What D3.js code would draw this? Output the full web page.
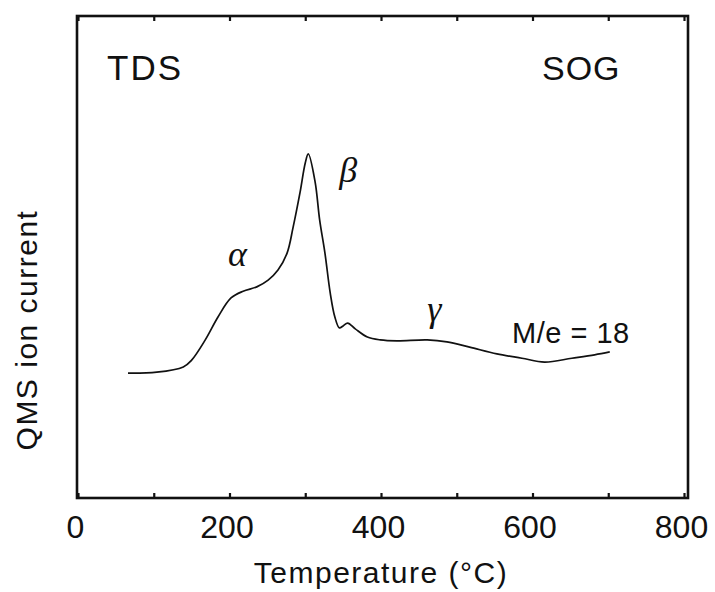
<!DOCTYPE html>
<html>
<head>
<meta charset="utf-8">
<script src="https://cdn.jsdelivr.net/npm/d3@7"></script>
<style>
  body { margin: 0; background: #fff; }
  svg { display: block; }
  text { fill: #111; }
</style>
</head>
<body>
<div id="chart"></div>
<script>
// Temperature (deg C)
var temps = [66, 104, 139, 150, 168, 185, 202, 218, 236, 251, 264, 276, 284, 293, 300, 304,
    313, 319, 326, 333, 339, 345, 350, 356, 366, 382, 399, 421, 461, 487, 517, 553, 586,
    616, 652, 682, 702];

// QMS ion current, arbitrary units (0 = bottom of frame, 100 = top)
var current = [25.9, 26.1, 27.2, 28.6, 32.8, 37.6, 41.5, 42.9, 43.8, 45.2, 47.3, 50.8, 56.2,
    63.3, 69.5, 71.4, 65.6, 57.7, 50.8, 42.5, 37.6, 35.3, 35.7, 36.3, 35.1, 33.4, 32.8, 32.6,
    32.8, 32.4, 31.3, 29.9, 29.0, 28.2, 29.0, 29.7, 30.3];

var xTicks = [0, 100, 200, 300, 400, 500, 600, 700, 800];
var xLabels = [0, 200, 400, 600, 800];

// peak labels: [text, temperature, current]
var peaks = [["\u03b1", 198, 48.2], ["\u03b2", 345, 65.5], ["\u03b3", 461, 36.8]];

var W = 715, H = 592;
var frame = { left: 77, right: 688, top: 16, bottom: 498 };

var svg = d3.select("#chart").append("svg")
    .attr("width", W)
    .attr("height", H);

var x = d3.scaleLinear().domain([0, 800]).range([78, 684]);
var y = d3.scaleLinear().domain([0, 100]).range([frame.bottom, frame.top]);

// bottom axis, ticks pointing into the plot
var bottomAxis = svg.append("g")
    .attr("transform", "translate(0," + frame.bottom + ")")
    .call(d3.axisBottom(x)
        .tickValues(xTicks)
        .tickSizeInner(-5)
        .tickSizeOuter(0)
        .tickPadding(17)
        .tickFormat(function(d) { return xLabels.indexOf(d) >= 0 ? d : ""; }));

bottomAxis.select(".domain").remove();
bottomAxis.selectAll(".tick line").attr("stroke", "#111").attr("stroke-width", 2.2);
bottomAxis.selectAll(".tick text")
    .attr("font-family", "'Liberation Sans', Arial, sans-serif")
    .attr("font-size", 32)
    .attr("fill", "#111")
    .attr("dx", -3);

// top axis, ticks only
var topAxis = svg.append("g")
    .attr("transform", "translate(0," + frame.top + ")")
    .call(d3.axisTop(x)
        .tickValues(xTicks)
        .tickSizeInner(-5)
        .tickSizeOuter(0)
        .tickFormat(""));

topAxis.select(".domain").remove();
topAxis.selectAll(".tick line").attr("stroke", "#111").attr("stroke-width", 2.2);

// frame
svg.append("rect")
    .attr("x", frame.left)
    .attr("y", frame.top)
    .attr("width", frame.right - frame.left)
    .attr("height", frame.bottom - frame.top)
    .attr("fill", "none")
    .attr("stroke", "#111")
    .attr("stroke-width", 2.6);

// the trace
var line = d3.line()
    .x(function(d, i) { return x(temps[i]); })
    .y(function(d) { return y(d); })
    .curve(d3.curveCatmullRom.alpha(0.5));

svg.append("path")
    .datum(current)
    .attr("d", line)
    .attr("fill", "none")
    .attr("stroke", "#111")
    .attr("stroke-width", 1.7)
    .attr("stroke-linejoin", "round");

// peak labels
svg.selectAll(".peak")
    .data(peaks)
    .enter().append("text")
    .attr("class", "peak")
    .attr("x", function(d) { return x(d[1]); })
    .attr("y", function(d) { return y(d[2]); })
    .attr("font-family", "'Liberation Serif', 'Times New Roman', serif")
    .attr("font-style", "italic")
    .attr("font-size", 36)
    .text(function(d) { return d[0]; });

// corner and series labels
var sans = "'Liberation Sans', Arial, sans-serif";

svg.append("text")
    .attr("x", 107).attr("y", 80)
    .attr("font-family", sans).attr("font-size", 35)
    .attr("letter-spacing", 2)
    .text("TDS");

svg.append("text")
    .attr("x", 542).attr("y", 80)
    .attr("font-family", sans).attr("font-size", 34)
    .attr("letter-spacing", 1)
    .text("SOG");

svg.append("text")
    .attr("x", 512).attr("y", 343)
    .attr("font-family", sans).attr("font-size", 29)
    .attr("letter-spacing", 0.5)
    .text("M/e = 18");

// axis titles
svg.append("text")
    .attr("x", 381).attr("y", 583)
    .attr("text-anchor", "middle")
    .attr("font-family", sans).attr("font-size", 30)
    .attr("letter-spacing", 1.5)
    .text("Temperature  (\u00b0C)");

svg.append("text")
    .attr("transform", "translate(37,330) rotate(-90)")
    .attr("text-anchor", "middle")
    .attr("font-family", sans).attr("font-size", 30)
    .attr("letter-spacing", 1.5)
    .text("QMS ion current");
</script>
</body>
</html>
